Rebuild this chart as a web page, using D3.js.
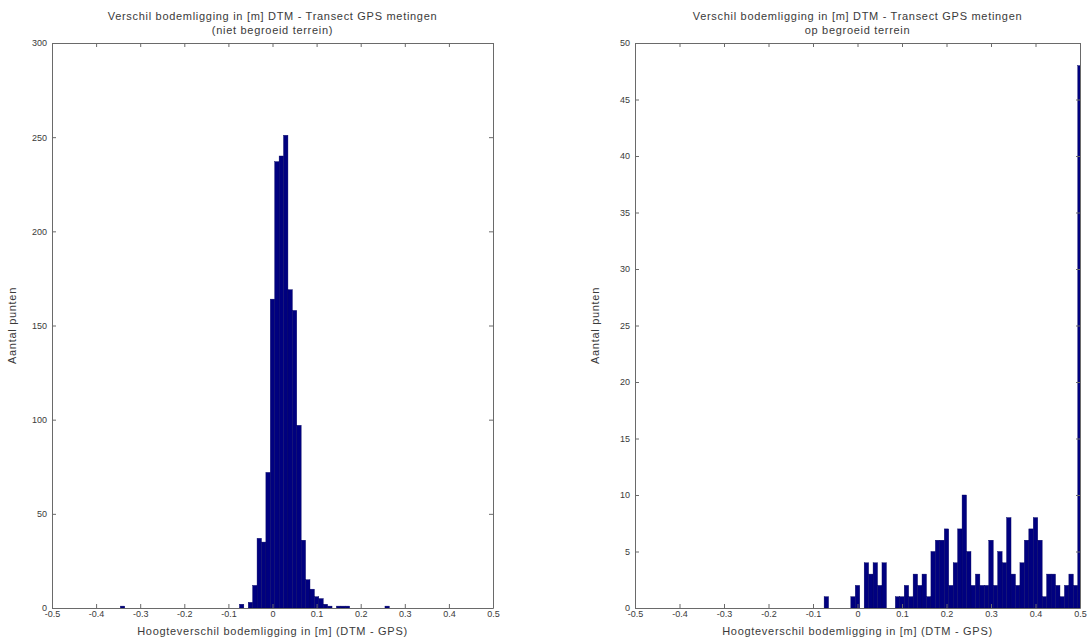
<!DOCTYPE html>
<html><head><meta charset="utf-8">
<script src="https://cdn.jsdelivr.net/npm/d3@7"></script>
<style>
body{margin:0;background:#fff}
svg{display:block}
text{font-family:"Liberation Sans",Arial,Helvetica,sans-serif}
</style></head>
<body><svg id="c" width="1087" height="639"></svg>
<script>
// ---- data (bin centres in m, counts) ----
const leftBins   = [-0.34,-0.07,-0.05,-0.04,-0.03,-0.02,-0.01,0.00,0.01,0.02,0.03,0.04,0.05,0.06,0.07,0.08,0.09,0.10,0.11,0.12,0.13,0.15,0.16,0.17,0.26];
const leftCounts = [1,2,3,12,37,35,72,164,237,240,251,169,158,97,36,15,10,6,5,2,1,1,1,1,1];

const rightBins   = [-0.07,-0.01,0.00,0.02,0.03,0.04,0.05,0.06,0.09,0.10,0.11,0.12,0.13,0.14,0.15,0.16,0.17,0.18,0.19,0.20,0.21,0.22,0.23,0.24,0.25,0.26,0.27,0.28,0.29,0.30,0.31,0.32,0.33,0.34,0.35,0.36,0.37,0.38,0.39,0.40,0.41,0.42,0.43,0.44,0.45,0.46,0.47,0.48,0.49,0.50];
const rightCounts = [1,1,2,4,3,4,2,4,1,1,2,1,3,2,3,1,5,6,6,7,2,4,7,10,5,2,3,2,2,6,2,5,4,8,3,2,4,6,7,8,6,1,3,3,2,1,2,3,2,48];

const binWidth = 0.01;
const xTicks = [-0.5,-0.4,-0.3,-0.2,-0.1,0,0.1,0.2,0.3,0.4,0.5];
const leftYTicks = [0,50,100,150,200,250,300];
const rightYTicks = [0,5,10,15,20,25,30,35,40,45,50];

const titleLine1 = "Verschil bodemligging in [m] DTM - Transect GPS metingen";
const leftSubtitle = "(niet begroeid terrein)";
const rightSubtitle = "op begroeid terrein";
const xLabel = "Hoogteverschil bodemligging in [m] (DTM - GPS)";
const yLabel = "Aantal punten";

// ---- drawing ----
const svg = d3.select("#c");
const barColor = "#00007f";
const axisColor = "#6a6a6a";
const textColor = "#3a3a3a";
const fmtX = d => String(+d.toFixed(1));
const labelSize = 11, labelSpacing = 0.7;

function panel(id, box, bins, counts, yMax, yTicks, sub) {
  const x = d3.scaleLinear().domain([-0.5,0.5]).range([box.x0, box.x1]);
  const y = d3.scaleLinear().domain([0,yMax]).range([box.y1, box.y0]);
  const g = svg.append("g");

  g.append("clipPath").attr("id", id).append("rect")
    .attr("x", box.x0).attr("y", box.y0)
    .attr("width", box.x1-box.x0).attr("height", box.y1-box.y0);

  g.append("g").attr("clip-path", `url(#${id})`)
    .selectAll("rect").data(bins.map((b,i)=>({b, c: counts[i]}))).join("rect")
    .attr("x", d => x(d.b - binWidth/2))
    .attr("width", d => x(d.b + binWidth/2) - x(d.b - binWidth/2))
    .attr("y", d => y(d.c))
    .attr("height", d => y(0) - y(d.c))
    .attr("fill", barColor)
    .attr("stroke", "#000060").attr("stroke-width", 0.4);

  const tk = 4;
  const styleAxis = sel => {
    sel.select(".domain").attr("stroke", axisColor);
    sel.selectAll(".tick line").attr("stroke", axisColor);
    sel.selectAll(".tick text").attr("fill", textColor).attr("font-size", 9)
      .attr("font-family", '"Liberation Sans",Arial,sans-serif');
  };
  g.append("g").attr("transform", `translate(0,${box.y1})`)
    .call(d3.axisBottom(x).tickValues(xTicks).tickFormat(fmtX).tickSizeInner(-tk).tickSizeOuter(0).tickPadding(3))
    .call(styleAxis);
  g.append("g").attr("transform", `translate(0,${box.y0})`)
    .call(d3.axisTop(x).tickValues(xTicks).tickFormat("").tickSizeInner(-tk).tickSizeOuter(0))
    .call(styleAxis);
  g.append("g").attr("transform", `translate(${box.x0},0)`)
    .call(d3.axisLeft(y).tickValues(yTicks).tickSizeInner(-tk).tickSizeOuter(0).tickPadding(5))
    .call(styleAxis);
  g.append("g").attr("transform", `translate(${box.x1},0)`)
    .call(d3.axisRight(y).tickValues(yTicks).tickFormat("").tickSizeInner(-tk).tickSizeOuter(0))
    .call(styleAxis);

  const cx = (box.x0 + box.x1)/2;
  const txt = (sel) => sel.attr("text-anchor","middle").attr("font-size", labelSize)
    .attr("letter-spacing", labelSpacing).attr("fill", textColor);
  g.append("text").attr("x", cx).attr("y", 20).call(txt).text(titleLine1);
  g.append("text").attr("x", cx).attr("y", 34).call(txt).text(sub);
  g.append("text").attr("x", cx).attr("y", 635).call(txt).text(xLabel);
  g.append("text").attr("transform", `translate(${box.x0-36},${(box.y0+box.y1)/2}) rotate(-90)`)
    .call(txt).text(yLabel);
}

panel("clipL", {x0:52, x1:493, y0:43, y1:608}, leftBins, leftCounts, 300, leftYTicks, leftSubtitle);
panel("clipR", {x0:635, x1:1080, y0:43, y1:608}, rightBins, rightCounts, 50, rightYTicks, rightSubtitle);
</script></body></html>
